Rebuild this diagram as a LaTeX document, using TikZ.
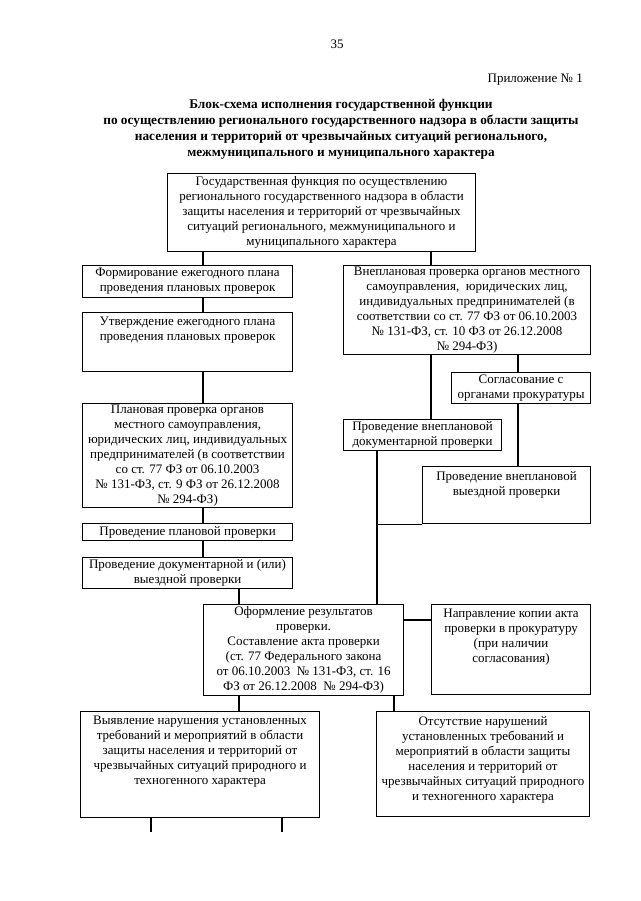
\documentclass[tikz,border=0pt]{standalone}
\usepackage{fontspec}
\setmainfont{Liberation Serif}

\tikzset{
  box/.style={draw, line width=1.1pt, anchor=north west, inner sep=0pt},
  boxtext/.style={align=center, inner sep=0pt, font=\fontsize{13}{15}\selectfont},
  link/.style={line width=1.1pt},
}

\begin{document}
\begin{tikzpicture}[x=1pt, y=-1pt]
      \useasboundingbox (0,0) rectangle (640,901);
      % header
      \node[boxtext] (page) at (337,44) {35};
      \node[boxtext, anchor=east] (appx) at (583,80) {Приложение № 1};
      \node[boxtext, font=\bfseries\fontsize{13.3}{16}\selectfont] (title) at (341,129)
        {Блок-схема исполнения государственной функции\\
         по осуществлению регионального государственного надзора в области защиты\\
         населения и территорий от чрезвычайных ситуаций регионального,\\
         межмуниципального и муниципального характера};
      % column positions
      \coordinate (c1) at (203,0);
      \coordinate (c2) at (431,0);
      \coordinate (c3) at (518,0);
      \coordinate (c4) at (377,0);
      \coordinate (c5) at (239,0);
      \coordinate (c6) at (394,0);
      \coordinate (r1) at (0,620);
      \coordinate (s1) at (151,832);
      \coordinate (s2) at (282,832);
      % top box
      \node[box, minimum width=308, minimum height=78] (func) at (167,173) {};
      \node[boxtext] (funcT) at (func.center)
        {Государственная функция по осуществлению\\
         регионального государственного надзора в области\\
         защиты населения и территорий от чрезвычайных\\
         ситуаций регионального, межмуниципального и\\
         муниципального характера};
      % left column
      \node[box, minimum width=210, minimum height=32] (formir) at (82,265) {};
      \node[boxtext] (formirT) at (formir.center)
        {Формирование ежегодного плана\\проведения плановых проверок};
      \node[box, minimum width=210, minimum height=59] (utv) at (82,312) {};
      \node[boxtext, anchor=north] (utvT) at ([yshift=-5pt]utv.north)
        {Утверждение ежегодного плана\\проведения плановых проверок};
      \node[box, minimum width=210, minimum height=104] (plan) at (82,403) {};
      \node[boxtext] (planT) at (plan.center)
        {Плановая проверка органов\\
         местного самоуправления,\\
         юридических лиц, индивидуальных\\
         предпринимателей (в соответствии\\
         со ст. 77 ФЗ от 06.10.2003\\
         № 131-ФЗ, ст. 9 ФЗ от 26.12.2008\\
         № 294-ФЗ)};
      \node[box, minimum width=210, minimum height=17] (plprov) at (82,523) {};
      \node[boxtext] (plprovT) at (plprov.center) {Проведение плановой проверки};
      \node[box, minimum width=210, minimum height=31] (docvyezd) at (82,557) {};
      \node[boxtext] (docvyezdT) at (docvyezd.center)
        {Проведение документарной и (или)\\выездной проверки};
      % right column
      \node[box, minimum width=247, minimum height=89] (vnepl) at (343,265) {};
      \node[boxtext] (vneplT) at (vnepl.center)
        {Внеплановая проверка органов местного\\
         самоуправления,\ \ юридических лиц,\\
         индивидуальных предпринимателей (в\\
         соответствии со ст. 77 ФЗ от 06.10.2003\\
         № 131-ФЗ, ст. 10 ФЗ от 26.12.2008\\
         № 294-ФЗ)};
      \node[box, minimum width=139, minimum height=31] (soglas) at (451,372) {};
      \node[boxtext] (soglasT) at (soglas.center)
        {Согласование с\\органами прокуратуры};
      \node[box, minimum width=158, minimum height=31] (vndoc) at (343,419) {};
      \node[boxtext] (vndocT) at (vndoc.center)
        {Проведение внеплановой\\документарной проверки};
      \node[box, minimum width=168, minimum height=57] (vnvyezd) at (422,466) {};
      \node[boxtext, anchor=north] (vnvyezdT) at ([yshift=-5pt]vnvyezd.north)
        {Проведение внеплановой\\выездной проверки};
      % results
      \node[box, minimum width=200, minimum height=91] (akt) at (203,604) {};
      \node[boxtext] (aktT) at (akt.center)
        {Оформление результатов\\
         проверки.\\
         Составление акта проверки\\
         (ст. 77 Федерального закона\\
         от 06.10.2003\ \ № 131-ФЗ, ст. 16\\
         ФЗ от 26.12.2008\ \ № 294-ФЗ)};
      \node[box, minimum width=159, minimum height=90] (kopiya) at (431,604) {};
      \node[boxtext, anchor=north] (kopiyaT) at ([yshift=-5pt]kopiya.north)
        {Направление копии акта\\
         проверки в прокуратуру\\
         (при наличии\\
         согласования)};
      \node[box, minimum width=239, minimum height=106] (narush) at (80,711) {};
      \node[boxtext, anchor=north] (narushT) at ([yshift=-5pt]narush.north)
        {Выявление нарушения установленных\\
         требований и мероприятий в области\\
         защиты населения и территорий от\\
         чрезвычайных ситуаций природного и\\
         техногенного характера};
      \node[box, minimum width=213, minimum height=105] (net) at (376,711) {};
      \node[boxtext, anchor=north] (netT) at ([yshift=-5pt]net.north)
        {Отсутствие нарушений\\
         установленных требований и\\
         мероприятий в области защиты\\
         населения и территорий от\\
         чрезвычайных ситуаций природного\\
         и техногенного характера};
      % connectors
      \draw[link] (func.south -| c1) -- (formir.north -| c1);
      \draw[link] (func.south -| c2) -- (vnepl.north -| c2);
      \draw[link] (formir.south -| c1) -- (utv.north -| c1);
      \draw[link] (utv.south -| c1) -- (plan.north -| c1);
      \draw[link] (plan.south -| c1) -- (plprov.north -| c1);
      \draw[link] (plprov.south -| c1) -- (docvyezd.north -| c1);
      \draw[link] (docvyezd.south -| c5) -- (akt.north -| c5);
      \draw[link] (vnepl.south -| c3) -- (soglas.north -| c3);
      \draw[link] (vnepl.south -| c2) -- (vndoc.north -| c2);
      \draw[link] (soglas.south -| c3) -- (vnvyezd.north -| c3);
      \draw[link] (vndoc.south -| c4) -- (akt.north -| c4);
      \draw[link] (vnvyezd.south west) -- (vnvyezd.south west -| c4);
      \draw[link] (akt.east |- r1) -- (kopiya.west |- r1);
      \draw[link] (akt.south -| c5) -- (narush.north -| c5);
      \draw[link] (akt.south -| c6) -- (net.north -| c6);
      \draw[link] (narush.south -| s1) -- (s1);
      \draw[link] (narush.south -| s2) -- (s2);
    \end{tikzpicture}
\end{document}
